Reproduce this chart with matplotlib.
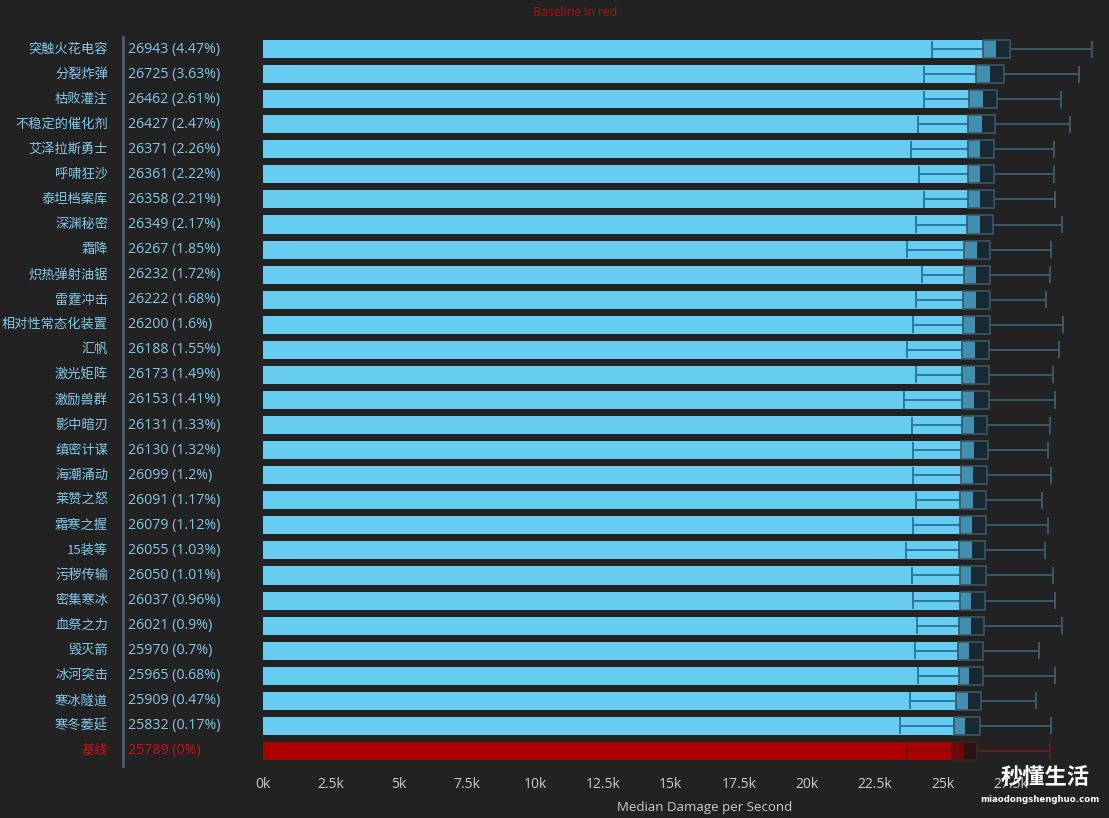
import numpy as np
import matplotlib
matplotlib.use('Agg')
import matplotlib.pyplot as plt
import matplotlib.transforms as mtransforms
from matplotlib.colors import to_rgba
from matplotlib.patches import Rectangle

plt.rcParams['font.family'] = ['Noto Sans CJK SC', 'DejaVu Sans']

# Data (top to bottom)
names = ['突触火花电容', '分裂炸弹', '枯败灌注', '不稳定的催化剂', '艾泽拉斯勇士', '呼啸狂沙',
         '泰坦档案库', '深渊秘密', '霜降', '炽热弹射油锯', '雷霆冲击', '相对性常态化装置',
         '汇帆', '激光矩阵', '激励兽群', '影中暗刃', '缜密计谋', '海潮涌动', '莱赞之怒',
         '霜寒之握', '15装等', '污秽传输', '密集寒冰', '血祭之力', '毁灭箭', '冰河突击',
         '寒冰隧道', '寒冬萎延', '基线']
medians = [26943, 26725, 26462, 26427, 26371, 26361, 26358, 26349, 26267, 26232,
           26222, 26200, 26188, 26173, 26153, 26131, 26130, 26099, 26091, 26079,
           26055, 26050, 26037, 26021, 25970, 25965, 25909, 25832, 25789]
pcts = [4.47, 3.63, 2.61, 2.47, 2.26, 2.22, 2.21, 2.17, 1.85, 1.72, 1.68, 1.6,
        1.55, 1.49, 1.41, 1.33, 1.32, 1.2, 1.17, 1.12, 1.03, 1.01, 0.96, 0.9,
        0.7, 0.68, 0.47, 0.17, 0]
q1 = [26460, 26220, 25970, 25930, 25910, 25910, 25910, 25890, 25780, 25760,
      25750, 25750, 25720, 25710, 25690, 25690, 25670, 25650, 25640, 25630,
      25590, 25630, 25630, 25590, 25550, 25580, 25480, 25400, 25340]
q3 = [27460, 27250, 26990, 26920, 26890, 26890, 26880, 26860, 26730, 26730,
      26730, 26730, 26690, 26680, 26680, 26630, 26650, 26620, 26580, 26580,
      26540, 26580, 26540, 26520, 26480, 26480, 26420, 26360, 26240]
lows = [24590, 24310, 24290, 24070, 23820, 24140, 24290, 24030, 23670, 24220,
        24020, 23890, 23700, 24000, 23560, 23850, 23890, 23920, 24000, 23890,
        23630, 23850, 23920, 24060, 23960, 24070, 23780, 23410, 23630]
highs = [30500, 29990, 29340, 29660, 29080, 29080, 29140, 29390, 28970, 28930,
         28800, 29420, 29270, 29060, 29130, 28930, 28850, 28980, 28650, 28850,
         28760, 29040, 29120, 29380, 28520, 29140, 28440, 28980, 28930]
xticks = np.arange(0, 27501, 2500)

BG = '#222222'
W, H = 1109, 818
n = len(names)
baseline = n - 1

fig = plt.figure(figsize=(W / 100, H / 100), dpi=100, facecolor=BG)
ax = fig.add_axes([263 / W, 1 - 763.5 / H, (1106 - 263) / W, (763.5 - 36.5) / H])
ax.set_facecolor(BG)

y = np.arange(n)
bar_colors = ['#66ccf0'] * n
bar_colors[baseline] = '#aa0000'
ax.barh(y, medians, height=0.72, color=bar_colors, zorder=2)

for i in range(n):
    if i == baseline:
        box_face = to_rgba('#3a0000', 0.45)
        box_edge = '#3a2526'
        wl, wh = '#7a1010', '#6a1a1a'
    else:
        box_face = to_rgba('#0d3550', 0.4)
        box_edge = '#3d5563'
        wl, wh = '#2a78a2', '#3b5969'
    # whiskers
    ax.hlines(i, lows[i], q1[i], color=wl, lw=1.4, zorder=3)
    ax.hlines(i, q3[i], highs[i], color=wh, lw=1.4, zorder=3)
    ax.vlines(lows[i], i - 0.34, i + 0.34, color=wl, lw=1.4, zorder=3)
    ax.vlines(highs[i], i - 0.34, i + 0.34, color=wh, lw=1.4, zorder=3)
    # box
    ax.add_patch(Rectangle((q1[i], i - 0.36), q3[i] - q1[i], 0.72,
                           facecolor=box_face, edgecolor=box_edge, lw=1.2, zorder=4))

ax.set_ylim(n - 0.5, -0.5)
ax.set_xlim(0, 31000)
ax.set_xticks(xticks)
ax.set_xticklabels(['%gk' % (v / 1000) for v in xticks], family=['Open Sans', 'DejaVu Sans'])
ax.set_yticks([])
ax.tick_params(axis='x', length=0, pad=10, labelsize=10, labelcolor='#cccccc')
for s in ax.spines.values():
    s.set_visible(False)
ax.set_xlabel('Median Damage per Second', color='#cccccc', fontsize=9.5,
              family=['Open Sans', 'DejaVu Sans'])
ax.xaxis.set_label_coords((705 - 263) / (1106 - 263), -0.052)

# row labels left of the bars
trans = mtransforms.blended_transform_factory(fig.transFigure, ax.transData)
for i in range(n):
    col = '#cc1111' if i == baseline else '#84c8ea'
    ax.text(108 / W, i, names[i], transform=trans, ha='right', va='center',
            fontsize=9.5, color=col)
    ax.text(128 / W, i, '%d (%g%%)' % (medians[i], pcts[i]), transform=trans,
            ha='left', va='center', fontsize=10.2, color=col,
            family=['Open Sans', 'DejaVu Sans'])

# separator line
fig.add_artist(plt.Line2D([123 / W, 123 / W], [1 - 37 / H, 1 - 766 / H],
                          transform=fig.transFigure, color='#4d5d6b', lw=2))

fig.text(575 / W, 1 - 12 / H, 'Baseline in red', color='#aa1111', fontsize=8.8,
         ha='center', va='center', family=['Open Sans', 'DejaVu Sans'])

# watermark
fig.text(1045 / W, 1 - 778 / H, '秒懂生活', color='white', fontsize=16,
         fontweight='bold', ha='center', va='center')
fig.text(1040 / W, 1 - 800 / H, 'miaodongshenghuo.com', color='white', fontsize=6.2,
         fontweight='bold', ha='center', va='center', family=['DejaVu Sans'])

fig.savefig('out.png', dpi=100, facecolor=BG)
